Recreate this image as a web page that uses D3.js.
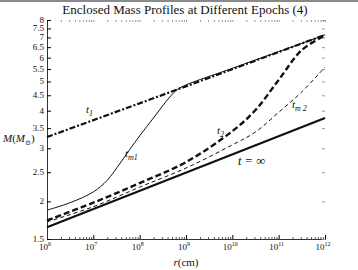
<!DOCTYPE html>
<html>
<head>
<meta charset="utf-8">
<script src="https://cdn.jsdelivr.net/npm/d3@7"></script>
<style>
  body { margin: 0; background: #fff; }
  text { font-family: "Liberation Serif", "DejaVu Serif", serif; fill: #111; }
</style>
</head>
<body>
<div id="chart"></div>
<script>
// values (r in cm as log10, M in solar masses)
var xDecades = [6, 7, 8, 9, 10, 11, 12];
var yTicks = [1.5, 2, 2.5, 3, 3.5, 4, 4.5, 5, 5.5, 6, 6.5, 7, 7.5, 8];

var logR_t1 = [6, 8.81, 12];
var m_t1 = [3.27, 4.7, 7.14];

var logR_tm1 = [6, 6.5, 7, 7.3, 7.58, 7.79, 8, 8.33, 8.65, 8.81, 9, 10, 11, 12];
var m_tm1 = [1.87, 1.98, 2.15, 2.35, 2.68, 2.98, 3.3, 3.84, 4.44, 4.7, 4.87, 5.53, 6.28, 7.14];

var logR_t2 = [6, 7, 8, 9, 10, 10.5, 11, 11.5, 12];
var m_t2 = [1.73, 1.98, 2.3, 2.7, 3.42, 4.02, 5.06, 6.36, 7.1];

var logR_tm2 = [6, 7, 8, 9, 10, 10.5, 11, 11.5, 12];
var m_tm2 = [1.71, 1.92, 2.23, 2.58, 3.08, 3.4, 3.95, 4.62, 5.58];

var logR_tinf = [6, 12];
var m_tinf = [1.64, 3.78];

var W = 358, H = 270;
var margin = {top: 20, right: 33, bottom: 31, left: 47},
    width = W - margin.left - margin.right,
    height = H - margin.top - margin.bottom;

var svg = d3.select('#chart').append('svg')
  .attr('width', W)
  .attr('height', H);

// grey frame line at the very top of the figure
svg.append('line')
  .attr('x1', 0).attr('x2', W).attr('y1', 1).attr('y2', 1)
  .attr('stroke', '#8a8a8a').attr('stroke-width', 2);

var g = svg.append('g')
  .attr('transform', 'translate(' + margin.left + ',' + margin.top + ')');

var x = d3.scaleLog().domain([1e6, 1e12]).range([0, width]);
var y = d3.scaleLog().domain([1.5, 8]).range([height, 0]);

var majors = xDecades.map(function(d) { return Math.pow(10, d); });
var minors = [];
xDecades.slice(0, -1).forEach(function(d) {
  for (var k = 2; k < 10; k++) minors.push(k * Math.pow(10, d));
});

// bottom axis
g.append('g')
  .attr('transform', 'translate(0,' + height + ')')
  .call(d3.axisBottom(x).tickValues(majors).tickSize(-4).tickFormat(''))
  .call(function(s) { s.select('.domain').attr('stroke', '#333'); });
g.append('g')
  .attr('transform', 'translate(0,' + height + ')')
  .call(d3.axisBottom(x).tickValues(minors).tickSize(-2).tickFormat(''))
  .call(function(s) { s.select('.domain').remove(); s.selectAll('line').attr('stroke', '#555'); });

// top ticks (no line)
g.append('g')
  .call(d3.axisTop(x).tickValues(majors.concat(minors)).tickSize(-2).tickFormat(''))
  .call(function(s) { s.select('.domain').remove(); s.selectAll('line').attr('stroke', '#999'); });

// left axis
g.append('g')
  .call(d3.axisLeft(y).tickValues(yTicks).tickSize(-4).tickFormat(''))
  .call(function(s) { s.select('.domain').attr('stroke', '#333'); });

// right ticks
g.append('g')
  .attr('transform', 'translate(' + width + ',0)')
  .call(d3.axisRight(y).tickValues(yTicks).tickSize(-3).tickFormat(''))
  .call(function(s) { s.select('.domain').remove(); s.selectAll('line').attr('stroke', '#999'); });

// y tick labels
g.selectAll('.ylab')
  .data(yTicks)
  .enter().append('text')
  .attr('x', -3)
  .attr('y', function(d) { return y(d) + 3; })
  .attr('text-anchor', 'end')
  .style('font-size', '9px')
  .text(function(d) { return d3.format('')(d); });

// x tick labels 10^n
var xl = g.selectAll('.xlab')
  .data(xDecades)
  .enter().append('text')
  .attr('x', function(d) { return x(Math.pow(10, d)) - 2; })
  .attr('y', height + 11)
  .attr('text-anchor', 'middle')
  .style('font-size', '9px');
xl.append('tspan').text('10');
xl.append('tspan').attr('dy', -4).style('font-size', '6px').text(function(d) { return d; });

// titles
svg.append('text')
  .attr('x', 185).attr('y', 14)
  .attr('text-anchor', 'middle')
  .style('font-size', '13px')
  .text('Enclosed Mass Profiles at Different Epochs (4)');

var xt = svg.append('text')
  .attr('x', 186).attr('y', 266)
  .attr('text-anchor', 'middle')
  .style('font-size', '11px');
xt.append('tspan').style('font-style', 'italic').text('r');
xt.append('tspan').text('(cm)');

var yt = svg.append('text')
  .attr('x', 3).attr('y', 142)
  .style('font-size', '11px');
yt.append('tspan').style('font-style', 'italic').text('M');
yt.append('tspan').text('(');
yt.append('tspan').style('font-style', 'italic').text('M');
yt.append('tspan').attr('dy', 3).style('font-size', '7px').text('⊙');
yt.append('tspan').attr('dy', -3).text(')');

// curves
function lineWith(curve) {
  return d3.line()
    .x(function(d) { return x(Math.pow(10, d[0])); })
    .y(function(d) { return y(d[1]); })
    .curve(curve);
}
var smooth = lineWith(d3.curveCatmullRom.alpha(0.5));
var straight = lineWith(d3.curveLinear);

function draw(lr, m, gen, w, dash) {
  g.append('path')
    .datum(d3.zip(lr, m))
    .attr('d', gen)
    .attr('fill', 'none')
    .attr('stroke', '#111')
    .attr('stroke-width', w)
    .attr('stroke-dasharray', dash);
}

draw(logR_tinf, m_tinf, straight, 2.2, null);
draw(logR_tm2, m_tm2, smooth, 1, '4,3');
draw(logR_t2, m_t2, smooth, 2.4, '6,3');
draw(logR_tm1, m_tm1, smooth, 1, null);
draw(logR_t1, m_t1, straight, 2.2, '6,2,2,2');

// curve labels
function label(px, py, main, sub, size) {
  var t = svg.append('text')
    .attr('x', px).attr('y', py)
    .style('font-size', (size || 11) + 'px');
  t.append('tspan').style('font-style', 'italic').text(main);
  if (sub) {
    t.append('tspan').attr('dy', 3).style('font-size', '8px').style('font-style', 'italic').text(sub);
  }
}
label(86, 113, 't', '1');
label(125, 157, 't', 'm1');
label(217, 134, 't', '2');
label(292, 108, 't', 'm 2');
label(238, 165, 't = ∞', null, 12.5);
</script>
</body>
</html>
